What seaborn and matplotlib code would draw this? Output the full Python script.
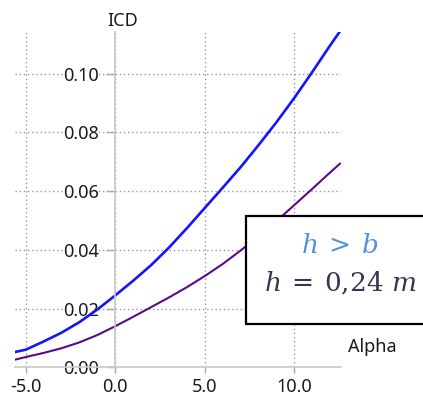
import pandas as pd
import matplotlib
matplotlib.use("Agg")
import matplotlib.pyplot as plt
import seaborn as sns

# data
alpha = [-5.6, -5, -4, -3, -2, -1, 0, 1, 2, 3, 4, 5, 6, 7, 8, 9, 10, 11, 12, 12.55]
icd_blue = [0.0052, 0.0060, 0.0088, 0.0118, 0.0154, 0.0197, 0.0245, 0.0295, 0.0348,
            0.0408, 0.0474, 0.0543, 0.0612, 0.0682, 0.0757, 0.0835, 0.0918, 0.1006,
            0.1097, 0.1145]
icd_purple = [0.0026, 0.0035, 0.0049, 0.0065, 0.0085, 0.0110, 0.0140, 0.0172, 0.0205,
              0.0238, 0.0273, 0.0311, 0.0352, 0.0398, 0.0447, 0.0498, 0.0553, 0.0608,
              0.0664, 0.0694]
xticks = [-5.0, 0.0, 5.0, 10.0]
yticks = [0.00, 0.02, 0.04, 0.06, 0.08, 0.10]

df = pd.DataFrame({"Alpha": alpha, "blue": icd_blue, "purple": icd_purple})

sns.set_style("white")
plt.rcParams["font.family"] = ["Noto Sans", "DejaVu Sans"]
plt.rcParams["mathtext.fontset"] = "dejavuserif"

W, H = 423, 393
fig = plt.figure(figsize=(W / 100, H / 100), dpi=100)
ax = fig.add_axes([15 / W, (H - 367.3) / H, (341 - 15) / W, (367.3 - 32) / H])

sns.lineplot(data=df, x="Alpha", y="blue", color="#1414ff", linewidth=1.9, ax=ax)
sns.lineplot(data=df, x="Alpha", y="purple", color="#5a0a8a", linewidth=1.5, ax=ax)

ax.set_xlim(-5.6, 12.6)
ax.set_ylim(0, 0.1142)
ax.set_xticks(xticks)
ax.set_yticks(yticks)
ax.set_xticklabels([f"{v:.1f}" for v in xticks])
ax.set_yticklabels([f"{v:.2f}" for v in yticks])
ax.set_xlabel("")
ax.set_ylabel("")

for s in ["top", "right"]:
    ax.spines[s].set_visible(False)
ax.spines["left"].set_position(("data", 0))
ax.spines["bottom"].set_position(("data", 0))
for s in ["left", "bottom"]:
    ax.spines[s].set_color("#c8c8c8")
    ax.spines[s].set_linewidth(1.2)

ax.set_axisbelow(True)
ax.grid(True, color="#9a9a9a", linestyle=(0, (1, 2)), linewidth=1.0)
ax.tick_params(axis="y", length=6.5, width=1, color="#a8a8a8", pad=5,
               labelsize=13, labelcolor="#1a1a1a", left=True)
ax.tick_params(axis="x", length=4, width=1, color="#a8a8a8", pad=4,
               labelsize=13, labelcolor="#1a1a1a", bottom=True)
for lab in ax.get_yticklabels():
    lab.set_bbox(dict(facecolor="white", edgecolor="none", pad=0))

fig.text(123 / W, 1 - 21 / H, "ICD", fontsize=13, ha="center", va="center",
         color="#1a1a1a")
fig.text(372 / W, 1 - 347 / H, "Alpha", fontsize=13, ha="center", va="center",
         color="#1a1a1a")

# annotation box
box = plt.Rectangle((245.5 / W, 1 - 324 / H), 200 / W, (324 - 216) / H,
                    transform=fig.transFigure, facecolor="white", edgecolor="black",
                    linewidth=1.6, zorder=5, clip_on=False)
fig.add_artist(box)
fig.text(340 / W, 1 - 246 / H, r"$h\:>\:b$", fontsize=19, color="#5590d8",
         ha="center", va="center", zorder=6)
fig.text(340 / W, 1 - 284 / H, r"$h\:=\:0{,}24\ m$", fontsize=19, color="#3c3350",
         ha="center", va="center", zorder=6)

fig.savefig("out.png", dpi=100)
